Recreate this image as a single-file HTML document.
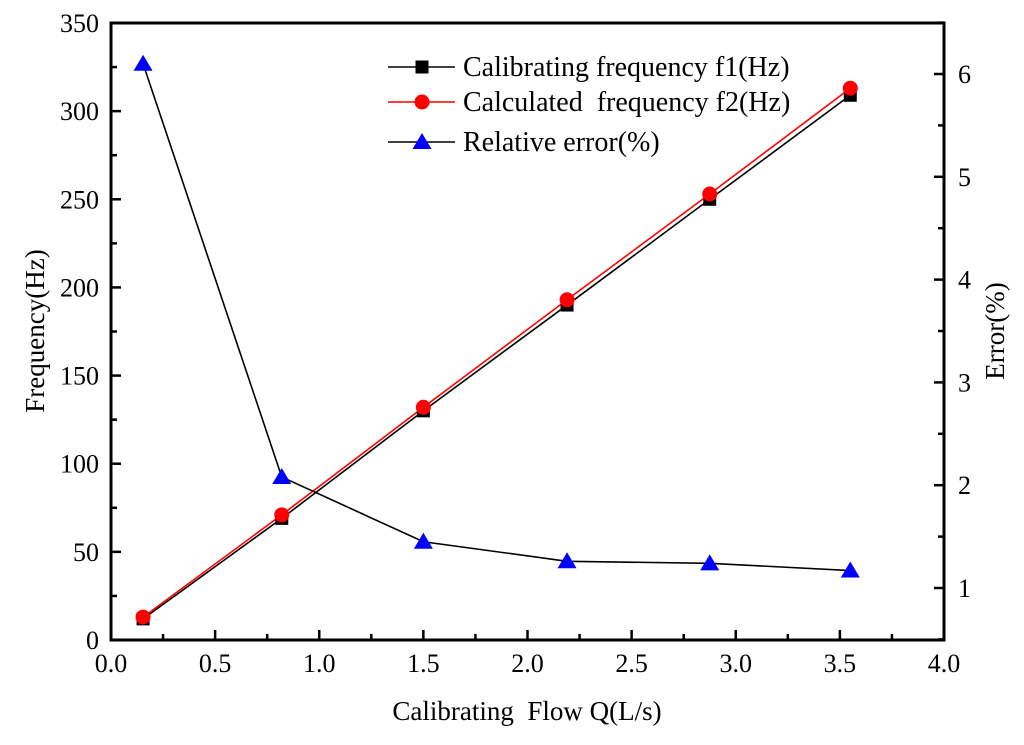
<!DOCTYPE html>
<html><head><meta charset="utf-8">
<style>
html,body{margin:0;padding:0;background:#fff;}
svg text{font-family:"Liberation Serif","Times New Roman",serif;fill:#000;white-space:pre;}
</style></head>
<body>
<svg id="chart" width="1024" height="740" viewBox="0 0 1024 740" xmlns="http://www.w3.org/2000/svg" xml:space="preserve"></svg>
<script>
const flows = [0.154, 0.82, 1.50, 2.19, 2.875, 3.55];
const f1 = [12, 69, 130, 190, 250, 309];
const f2 = [13, 71, 132, 193, 253, 313];
const err = [6.1, 2.08, 1.45, 1.26, 1.24, 1.17];
const xTicks = ["0.0","0.5","1.0","1.5","2.0","2.5","3.0","3.5","4.0"];
const yTicks = ["0","50","100","150","200","250","300","350"];
const y2Ticks = ["1","2","3","4","5","6"];

const L=111,R=944,T=23,B=640;
const sx=v=>L+(v/4)*(R-L);
const sy=v=>B-(v/350)*(B-T);
const sy2=v=>588-(v-1)*102.8;
const NS="http://www.w3.org/2000/svg";
const svg=document.getElementById('chart');
function mk(tag,attrs,parent){const e=document.createElementNS(NS,tag);for(const k in attrs)e.setAttribute(k,attrs[k]);(parent||svg).appendChild(e);return e;}

const frame=mk('rect',{x:L,y:T,width:R-L,height:B-T,fill:'none',stroke:'#000','stroke-width':3});



xTicks.forEach((t,i)=>{
  const v=parseFloat(t),x=sx(v);
  const tk=mk('line',{x1:x,y1:B,x2:x,y2:B-10,stroke:'#000','stroke-width':2.5});
  
  
  if(i<xTicks.length-1){const xm=sx(v+0.25);const m=mk('line',{x1:xm,y1:B,x2:xm,y2:B-6,stroke:'#000','stroke-width':2.5});
    
    }
  const tx=mk('text',{x:x,y:B+32,'font-size':26,'text-anchor':'middle'});tx.textContent=t;
  
  
});
yTicks.forEach((t,i)=>{
  const v=parseFloat(t),y=sy(v);
  const tk=mk('line',{x1:L,y1:y,x2:L+10,y2:y,stroke:'#000','stroke-width':2.5});
  
  
  if(i<yTicks.length-1){const ym=sy(v+25);const m=mk('line',{x1:L,y1:ym,x2:L+6,y2:ym,stroke:'#000','stroke-width':2.5});
    
    }
  const tx=mk('text',{x:L-12,y:y+9,'font-size':26,'text-anchor':'end'});tx.textContent=t;
  
  
});
y2Ticks.forEach(t=>{
  const v=parseFloat(t),y=sy2(v);
  const tk=mk('line',{x1:R,y1:y,x2:R-10,y2:y,stroke:'#000','stroke-width':2.5});
  
  
  const ym=sy2(v-0.5);
  const m=mk('line',{x1:R,y1:ym,x2:R-6,y2:ym,stroke:'#000','stroke-width':2.5});
  
  
  const tx=mk('text',{x:R+14,y:y+9,'font-size':26,'text-anchor':'start'});tx.textContent=t;
  
  
});
{const ym=sy2(6.5);const m=mk('line',{x1:R,y1:ym,x2:R-6,y2:ym,stroke:'#000','stroke-width':2.5});
 
 }

let t1=mk('text',{x:527,y:720,'font-size':27,'text-anchor':'middle'});t1.textContent='Calibrating  Flow Q(L/s)';


let t2=mk('text',{x:0,y:0,'font-size':27,'text-anchor':'middle',transform:'translate(44,331) rotate(-90)'});t2.textContent='Frequency(Hz)';


let t3=mk('text',{x:0,y:0,'font-size':27,'text-anchor':'middle',transform:'translate(1004,331) rotate(-90)'});t3.textContent='Error(%)';



function line(vals,scale,color,name){
  const pts=vals.map((v,i)=>sx(flows[i])+','+scale(v)).join(' ');
  const p=mk('polyline',{points:pts,fill:'none',stroke:color,'stroke-width':1.6});
  
  
}
line(f1,sy,'#000','f1-line');
line(f2,sy,'#f00','f2-line');
line(err,sy2,'#000','error-line');
f1.forEach((v,i)=>{const x=sx(flows[i]),y=sy(v);
  const r=mk('rect',{x:x-6.5,y:y-6.5,width:13,height:13,fill:'#000'});
  
  });
f2.forEach((v,i)=>{const x=sx(flows[i]),y=sy(v);
  const c=mk('circle',{cx:x,cy:y,r:7.5,fill:'#f00'});
  
  });
err.forEach((v,i)=>{const x=sx(flows[i]),y=sy2(v);
  const p=mk('polygon',{points:`${x},${y-9} ${x-9.5},${y+7} ${x+9.5},${y+7}`,fill:'#00f'});
  
  });

const leg=[['Calibrating frequency f1(Hz)','#000','sq',67],['Calculated  frequency f2(Hz)','#f00','ci',102],['Relative error(%)','#000','tri',142]];
leg.forEach(([label,col,m,y])=>{
  const g=mk('g',{});
  
  
  mk('line',{x1:388,y1:y,x2:455,y2:y,stroke:col,'stroke-width':1.6},g);
  if(m==='sq')mk('rect',{x:415.5,y:y-6.5,width:13,height:13,fill:'#000'},g);
  if(m==='ci')mk('circle',{cx:422,cy:y,r:7.5,fill:'#f00'},g);
  if(m==='tri')mk('polygon',{points:`422,${y-9} 412.5,${y+7} 431.5,${y+7}`,fill:'#00f'},g);
  const tx=mk('text',{x:463,y:y+9,'font-size':28},g);tx.textContent=label;
});
</script>
</body></html>
